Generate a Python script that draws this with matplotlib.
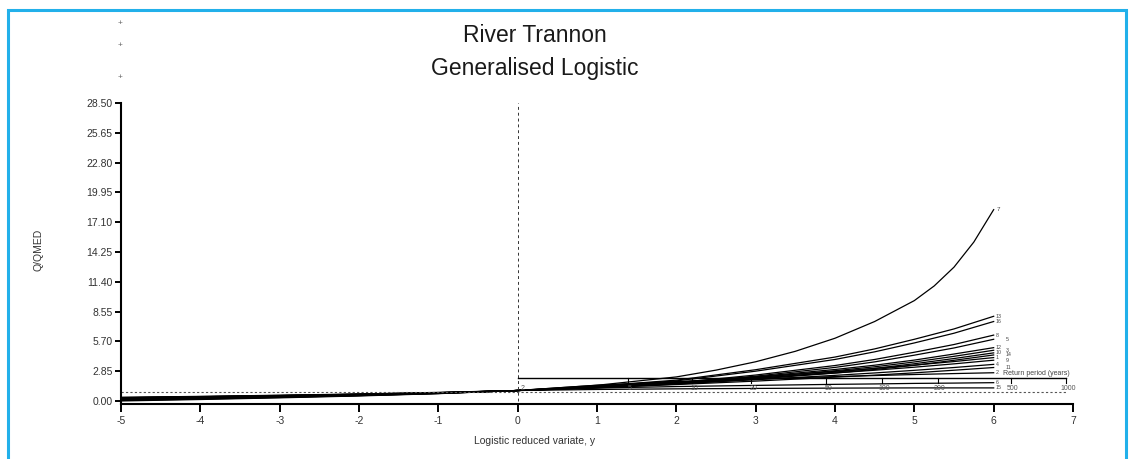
import numpy as np
import matplotlib.pyplot as plt
from matplotlib.patches import Rectangle

plt.rcParams['font.family'] = ['Liberation Sans', 'DejaVu Sans']

# Logistic reduced variate where the growth curves were read
y_var = [-5, -4, -3, -2, -1, 0, 1, 2, 3, 4, 4.5, 5, 5.5, 6]
# the steepest curve was read at more points
y_var_top = [-5, -4, -3, -2, -1, 0, 1, 2, 2.5, 3, 3.5, 4, 4.5, 5, 5.25, 5.5, 5.75, 6]

# Q/QMED growth curves of the pooling group
curve_7 = [0.35, 0.44, 0.55, 0.67, 0.82, 1.0, 1.50, 2.30, 2.95, 3.75, 4.75, 6.0,
           7.6, 9.6, 11.0, 12.8, 15.2, 18.3]
curve_13 = [0.25, 0.355, 0.475, 0.61, 0.775, 1.0, 1.43, 1.99, 2.99, 4.20, 4.98, 5.90, 6.89, 8.10]
curve_16 = [0.22, 0.33, 0.45, 0.59, 0.77, 1.0, 1.40, 1.92, 2.85, 3.97, 4.70, 5.55, 6.48, 7.60]
curve_8 = [0.28, 0.38, 0.50, 0.63, 0.78, 1.0, 1.32, 1.74, 2.48, 3.39, 3.97, 4.66, 5.40, 6.30]
curve_5 = [0.18, 0.29, 0.43, 0.57, 0.75, 1.0, 1.29, 1.69, 2.37, 3.21, 3.74, 4.38, 5.07, 5.90]
curve_12 = [0.30, 0.40, 0.51, 0.64, 0.79, 1.0, 1.33, 1.74, 2.31, 3.01, 3.42, 3.91, 4.49, 5.10]
curve_3 = [0.15, 0.27, 0.405, 0.56, 0.745, 1.0, 1.31, 1.69, 2.23, 2.89, 3.27, 3.73, 4.27, 4.85]
curve_10 = [0.33, 0.42, 0.53, 0.65, 0.80, 1.0, 1.29, 1.65, 2.15, 2.76, 3.12, 3.56, 4.06, 4.60]
curve_14 = [0.20, 0.31, 0.44, 0.58, 0.76, 1.0, 1.27, 1.61, 2.09, 2.67, 3.01, 3.41, 3.89, 4.40]
curve_1 = [0.12, 0.24, 0.38, 0.54, 0.74, 1.0, 1.38, 1.82, 2.29, 2.83, 3.11, 3.43, 3.77, 4.15]
curve_9 = [0.26, 0.36, 0.48, 0.62, 0.78, 1.0, 1.35, 1.75, 2.19, 2.68, 2.94, 3.23, 3.55, 3.90]
curve_4 = [0.10, 0.23, 0.37, 0.53, 0.73, 1.0, 1.30, 1.65, 2.03, 2.45, 2.68, 2.93, 3.20, 3.50]
curve_11 = [0.30, 0.40, 0.51, 0.64, 0.79, 1.0, 1.26, 1.57, 1.90, 2.28, 2.47, 2.69, 2.94, 3.20]
curve_2 = [0.05, 0.18, 0.335, 0.51, 0.715, 1.0, 1.51, 1.85, 2.11, 2.33, 2.43, 2.53, 2.62, 2.70]
curve_6 = [0.00, 0.14, 0.30, 0.48, 0.70, 1.0, 1.23, 1.38, 1.49, 1.59, 1.63, 1.68, 1.71, 1.75]
curve_15 = [0.08, 0.21, 0.36, 0.52, 0.72, 1.0, 1.10, 1.16, 1.20, 1.23, 1.24, 1.25, 1.25, 1.25]

curves = [curve_13, curve_16, curve_8, curve_5, curve_12, curve_3, curve_10,
          curve_14, curve_1, curve_9, curve_4, curve_11, curve_2, curve_6, curve_15]
curve_names = ['13', '16', '8', '5', '12', '3', '10',
               '14', '1', '9', '4', '11', '2', '6', '15']

# Return period axis
return_periods = [2, 5, 10, 20, 50, 100, 200, 500, 1000]
rp_level = 2.2
dotted_level = 0.9

y_ticks = [0.00, 2.85, 5.70, 8.55, 11.40, 14.25, 17.10, 19.95, 22.80, 25.65, 28.50]
x_ticks = [-5, -4, -3, -2, -1, 0, 1, 2, 3, 4, 5, 6, 7]

W, H = 1134, 459
fig = plt.figure(figsize=(W / 100, H / 100), dpi=100)

# light blue frame round the picture
fig.patches.append(Rectangle((8 / W, -0.05), (1126 - 8) / W, 1.05 - 10 / H,
                             transform=fig.transFigure, fill=False,
                             edgecolor='#22b0ea', linewidth=2.2))

ax = fig.add_axes([121 / W, 1 - 404 / H, (1073 - 121) / W, (404 - 103) / H])
ax.set_xlim(-5, 7)
ax.set_ylim(-0.29, 28.5)

# the growth curves
ax.plot(y_var_top, curve_7, color='black', linewidth=0.9)
ax.text(y_var_top[-1] + 0.04, curve_7[-1], '7', fontsize=4.5, color='#444444',
        va='center', ha='left')

last_y = None
col = 0
for vals, name in zip(curves, curve_names):
    ax.plot(y_var, vals, color='black', linewidth=0.9)
    # stagger crowded end labels into two little columns (not near the scale)
    if last_y is not None and last_y - vals[-1] < 0.45 and vals[-1] > 3:
        col = 1 - col
    else:
        col = 0
    ax.text(y_var[-1] + 0.03 + 0.12 * col, vals[-1], name, fontsize=3.8,
            color='#444444', va='center', ha='left')
    last_y = vals[-1]

# vertical dashed line at y = 0 (T = 2 years)
ax.plot([0, 0], [0, y_ticks[-1]], color='#333333', linewidth=0.7,
        linestyle=(0, (3, 3)))
# dotted line along the bottom
ax.plot([-5, np.log(return_periods[-1] - 1)], [dotted_level, dotted_level],
        color='#555555', linewidth=0.8, linestyle=(0, (2, 2)))

# return period scale
rp_pos = np.log(np.array(return_periods) - 1.0)
ax.plot([rp_pos[0], rp_pos[-1]], [rp_level, rp_level], color='black', linewidth=1.0)
for pos, rp in zip(rp_pos, return_periods):
    if rp != 2:
        ax.plot([pos, pos], [rp_level, rp_level - 0.5], color='black', linewidth=0.8)
    ax.text(pos + (0.06 if rp == 2 else 0.03), rp_level - 1.05, str(rp), fontsize=5,
            color='#555555', ha='center', va='center')
ax.text(6.12, rp_level + 0.45, 'Return period (years)', fontsize=5,
        color='#444444', ha='left', va='center')

ax.set_xticks(x_ticks)
ax.set_xticklabels([str(v) for v in x_ticks])
ax.set_yticks(y_ticks)
ax.set_yticklabels(['%.2f' % v for v in y_ticks])
ax.tick_params(axis='both', direction='out', length=4, width=1.4,
               labelsize=7.5, labelcolor='#333333', pad=2)
ax.tick_params(axis='x', length=6, pad=3)

for side in ['top', 'right']:
    ax.spines[side].set_visible(False)
ax.spines['left'].set_linewidth(1.5)
ax.spines['bottom'].set_linewidth(1.5)

# stray marks above the y axis
for yp in [24, 46, 77]:
    fig.text(120 / W, 1 - yp / H, '+', fontsize=6, color='#666666',
             ha='center', va='center')

fig.text(535 / W, 1 - 36 / H, 'River Trannon', fontsize=16.5, ha='center',
         va='center', color='#1a1a1a')
fig.text(535 / W, 1 - 68 / H, 'Generalised Logistic', fontsize=16.5,
         ha='center', va='center', color='#1a1a1a')
fig.text(535 / W, 1 - 441 / H, 'Logistic reduced variate, y', fontsize=7.5,
         ha='center', va='center', color='#333333')
fig.text(38 / W, 1 - 250 / H, 'Q/QMED', fontsize=7.5, rotation=90,
         ha='center', va='center', color='#333333')

fig.savefig('out.png', dpi=100)
